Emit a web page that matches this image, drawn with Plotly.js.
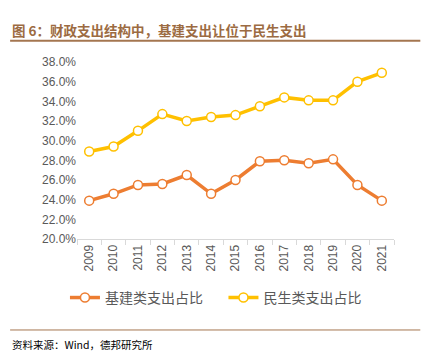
<!DOCTYPE html>
<html>
<head>
<meta charset="utf-8">
<script src="https://cdn.plot.ly/plotly-3.0.1.min.js"></script>
<style>html,body{margin:0;padding:0;background:#fff;}#chart{width:431px;height:353px;}</style>
</head>
<body>
<div id="chart"></div>
<script>
var years = ['2009','2010','2011','2012','2013','2014','2015','2016','2017','2018','2019','2020','2021'];
var infraShare = [23.9, 24.6, 25.5, 25.6, 26.5, 24.6, 26.0, 27.9, 28.0, 27.7, 28.1, 25.5, 23.9];
var welfareShare = [28.9, 29.4, 31.0, 32.7, 32.0, 32.4, 32.6, 33.5, 34.4, 34.1, 34.1, 36.0, 36.9];
var seriesNames = ['基建类支出占比', '民生类支出占比'];
var yTickVals = [20, 22, 24, 26, 28, 30, 32, 34, 36, 38];
var yTickText = ['20.0%', '22.0%', '24.0%', '26.0%', '28.0%', '30.0%', '32.0%', '34.0%', '36.0%', '38.0%'];
var titleText = '图 6：财政支出结构中，基建支出让位于民生支出';
var sourceText = '资料来源：Wind，德邦研究所';

var font = '"Noto Sans CJK SC", "Noto Sans", sans-serif';
function mk(name, vals, color, lg) {
  return {
    type: 'scatter', mode: 'lines+markers', name: name, x: years, y: vals, legend: lg,
    line: {color: color, width: 3.5},
    marker: {size: 9, color: '#ffffff', line: {color: color, width: 1.5}}
  };
}
var data = [mk(seriesNames[0], infraShare, '#ED7D31', 'legend'), mk(seriesNames[1], welfareShare, '#FFC000', 'legend2')];

var legendBase = {orientation: 'h', xanchor: 'left', y: -0.333, yanchor: 'middle',
  bgcolor: 'rgba(0,0,0,0)', font: {size: 14, color: '#595959', family: font}, itemwidth: 30};

var layout = {
  width: 431, height: 353,
  margin: {l: 77, r: 37, t: 62, b: 114},
  paper_bgcolor: '#fff', plot_bgcolor: '#fff',
  font: {family: font, color: '#595959', size: 12},
  showlegend: true,
  legend: Object.assign({}, legendBase, {x: -0.038}),
  legend2: Object.assign({}, legendBase, {x: 0.462}),
  xaxis: {
    type: 'category', range: [-0.5, 12.5], tickangle: -90,
    showgrid: false, showline: true, linecolor: '#d9d9d9', linewidth: 1,
    ticks: 'outside', ticklen: 5, tickcolor: '#d9d9d9', tickson: 'boundaries',
    tickfont: {size: 12, color: '#595959', family: 'Liberation Sans, Arial, sans-serif'}
  },
  yaxis: {
    range: [20, 38], tickvals: yTickVals, ticktext: yTickText,
    showgrid: false, zeroline: false, showline: false, ticks: '',
    tickfont: {size: 12, color: '#595959', family: 'Liberation Sans, Arial, sans-serif'}
  },
  annotations: [
    {text: '<b>' + titleText + '</b>', xref: 'paper', yref: 'paper', x: -0.21, y: 1.18,
     xanchor: 'left', yanchor: 'middle', showarrow: false,
     font: {size: 13.5, color: '#9C6B42', family: font}},
    {text: sourceText, xref: 'paper', yref: 'paper', x: -0.21, y: -0.595,
     xanchor: 'left', yanchor: 'middle', showarrow: false,
     font: {size: 10.5, color: '#000', family: font}}
  ],
  shapes: [
    {type: 'line', xref: 'paper', yref: 'paper', x0: -0.211, x1: 1.083, y0: 1.12, y1: 1.12,
     line: {color: '#A47650', width: 2}},
    {type: 'line', xref: 'paper', yref: 'paper', x0: -0.211, x1: 1.083, y0: -0.514, y1: -0.514,
     line: {color: '#A47650', width: 1}}
  ]
};
Plotly.newPlot('chart', data, layout, {displayModeBar: false, staticPlot: true});
</script>
</body>
</html>
